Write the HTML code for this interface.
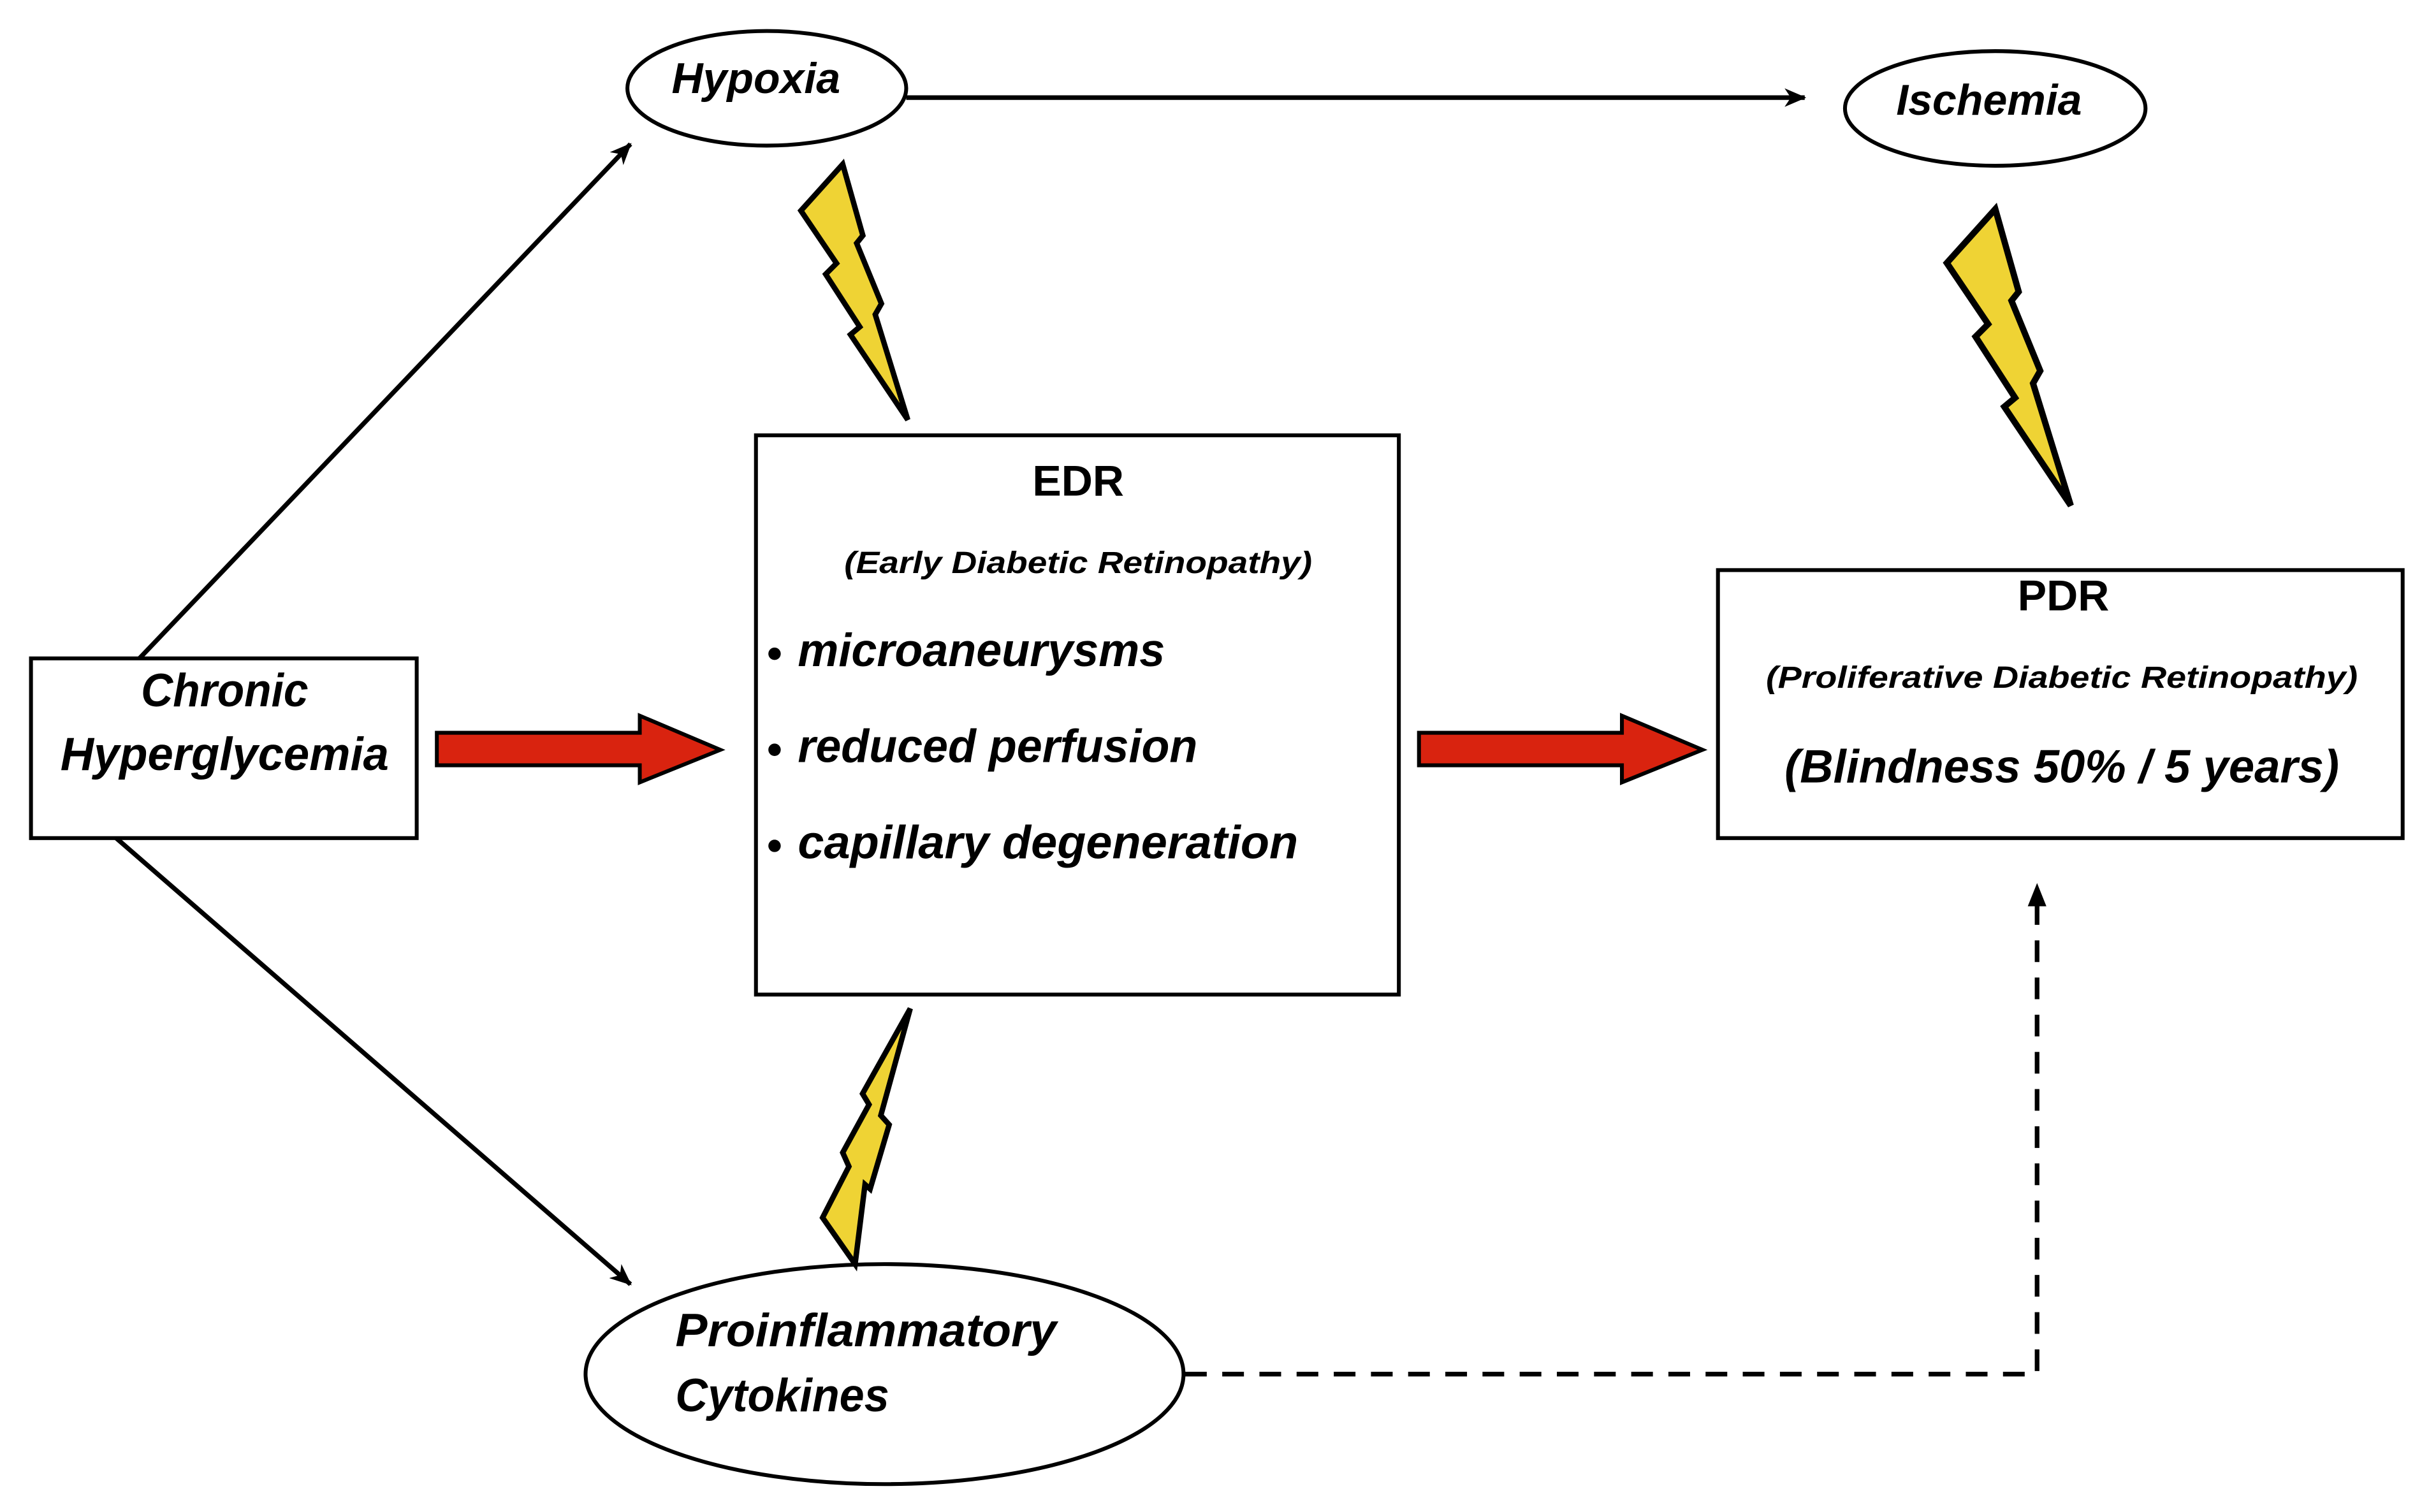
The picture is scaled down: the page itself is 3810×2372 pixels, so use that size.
<!DOCTYPE html>
<html><head><meta charset="utf-8"><style>
html,body{margin:0;padding:0;background:#fff;}
svg{display:block;}
text{font-family:"Liberation Sans Narrow","Liberation Sans",sans-serif;font-weight:bold;font-style:italic;fill:#000;}
</style></head><body>
<svg width="3810" height="2372" viewBox="0 0 1568 976" preserveAspectRatio="none" xmlns="http://www.w3.org/2000/svg">
<defs>
<marker id="ah" markerWidth="14" markerHeight="12" refX="13" refY="6" orient="auto" markerUnits="userSpaceOnUse">
<path d="M0,0 L14,6 L0,12 L4,6 Z" fill="#000"/>
</marker>
<marker id="ah2" markerWidth="14" markerHeight="12" refX="13" refY="6" orient="auto" markerUnits="userSpaceOnUse">
<path d="M0,0 L14,6 L0,12 L4,6 Z" fill="#000"/>
</marker>
</defs>
<rect width="1568" height="976" fill="#fff"/>

<!-- connectors -->
<line x1="585" y1="63" x2="1165" y2="63" stroke="#000" stroke-width="3" marker-end="url(#ah2)"/>
<line x1="90" y1="425" x2="407" y2="93" stroke="#000" stroke-width="3" marker-end="url(#ah)"/>
<line x1="75" y1="541" x2="407" y2="829" stroke="#000" stroke-width="3" marker-end="url(#ah)"/>
<path d="M765,887 L1315,887 L1315,578" fill="none" stroke="#000" stroke-width="3" stroke-dasharray="14,10"/>
<path d="M1309,585 L1315,570 L1321,585 Z" fill="#000"/>

<!-- ellipses -->
<ellipse cx="495" cy="57" rx="90" ry="37" fill="#fff" stroke="#000" stroke-width="2.5"/>
<text x="488" y="60" font-size="28" text-anchor="middle">Hypoxia</text>
<ellipse cx="1288" cy="70" rx="97" ry="37" fill="#fff" stroke="#000" stroke-width="2.5"/>
<text x="1284" y="74" font-size="28" text-anchor="middle">Ischemia</text>
<ellipse cx="571" cy="887" rx="193" ry="71" fill="#fff" stroke="#000" stroke-width="2.5"/>
<text x="436" y="869" font-size="30" textLength="246" lengthAdjust="spacingAndGlyphs">Proinflammatory</text>
<text x="436" y="911" font-size="30" textLength="138" lengthAdjust="spacingAndGlyphs">Cytokines</text>

<!-- boxes -->
<rect x="20" y="425" width="249" height="116" fill="#fff" stroke="#000" stroke-width="2.5"/>
<text x="145" y="456" font-size="30" text-anchor="middle" textLength="108" lengthAdjust="spacingAndGlyphs">Chronic</text>
<text x="145" y="497" font-size="30" text-anchor="middle" textLength="212" lengthAdjust="spacingAndGlyphs">Hyperglycemia</text>

<rect x="488" y="281" width="415" height="361" fill="#fff" stroke="#000" stroke-width="2.5"/>
<text x="696" y="320" font-size="28" text-anchor="middle" style="font-style:normal">EDR</text>
<text x="696" y="370" font-size="20" text-anchor="middle" textLength="302" lengthAdjust="spacingAndGlyphs">(Early Diabetic Retinopathy)</text>
<circle cx="500" cy="422" r="4" fill="#000"/>
<circle cx="500" cy="484" r="4" fill="#000"/>
<circle cx="500" cy="546" r="4" fill="#000"/>
<text x="515" y="430" font-size="30" textLength="237" lengthAdjust="spacingAndGlyphs">microaneurysms</text>
<text x="515" y="492" font-size="30" textLength="258" lengthAdjust="spacingAndGlyphs">reduced perfusion</text>
<text x="515" y="554" font-size="30" textLength="323" lengthAdjust="spacingAndGlyphs">capillary degeneration</text>

<rect x="1109" y="368" width="442" height="173" fill="#fff" stroke="#000" stroke-width="2.5"/>
<text x="1332" y="394" font-size="28" text-anchor="middle" style="font-style:normal">PDR</text>
<text x="1331" y="444" font-size="20" text-anchor="middle" textLength="382" lengthAdjust="spacingAndGlyphs">(Proliferative Diabetic Retinopathy)</text>
<text x="1331" y="505" font-size="30" text-anchor="middle" textLength="358" lengthAdjust="spacingAndGlyphs">(Blindness 50% / 5 years)</text>

<!-- red arrows -->
<path d="M282,473 L413,473 L413,462 L465,484 L413,505 L413,494 L282,494 Z" fill="#d9230f" stroke="#000" stroke-width="2.5" stroke-linejoin="miter"/>
<path d="M916,473 L1047,473 L1047,462 L1099,484 L1047,505 L1047,494 L916,494 Z" fill="#d9230f" stroke="#000" stroke-width="2.5" stroke-linejoin="miter"/>

<!-- lightning bolts -->
<g fill="#efd334" stroke="#000" stroke-width="3.5" stroke-linejoin="miter">
<polygon points="544,106 557,152 553,157 569,196 565,203 586,271 549,216 555,211 533,177 540,170 517,136"/>
<polygon transform="translate(657,12) scale(1.16)" points="544,106 557,152 553,157 569,196 565,203 586,271 549,216 555,211 533,177 540,170 517,136"/>
<polygon points="587.6,651 568.6,720 574,726 561.7,767.5 558.4,764.6 552,816 531,786 548,753 544,744 561,713 556.8,706"/>
</g>
</svg>
</body></html>
